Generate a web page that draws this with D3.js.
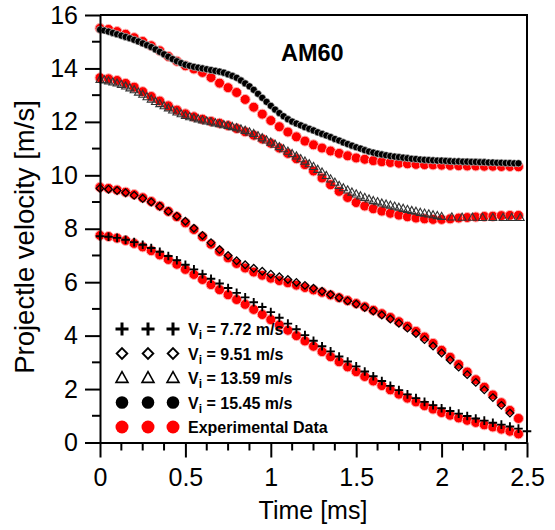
<!DOCTYPE html>
<html><head><meta charset="utf-8">
<script src="https://cdn.jsdelivr.net/npm/d3@7"></script>
<style>body{margin:0;background:#fff}svg{display:block}text{font-family:"Liberation Sans",Arial,sans-serif}</style>
</head><body><svg id="c" width="555" height="530"></svg>
<script>
// Time axis steps (ms)
const simStepFine = 0.025;   // black circles & triangles
const stepCoarse = 0.05;     // crosses, diamonds, experimental

// Vi = 15.45 m/s (filled black circles), t = 0 .. 2.45 step 0.025
const v1545 = [15.45,15.42,15.38,15.33,15.28,15.23,15.18,15.13,15.07,15.01,14.94,14.87,14.80,14.71,14.62,14.53,14.44,14.35,14.27,14.20,14.14,14.10,14.06,14.03,14.00,13.97,13.94,13.91,13.88,13.84,13.78,13.72,13.65,13.55,13.44,13.33,13.20,13.05,12.90,12.75,12.60,12.46,12.33,12.21,12.10,12.01,11.94,11.87,11.80,11.74,11.68,11.61,11.55,11.49,11.43,11.36,11.30,11.23,11.17,11.11,11.05,11.00,10.94,10.89,10.85,10.81,10.78,10.75,10.72,10.70,10.68,10.66,10.64,10.62,10.61,10.59,10.58,10.57,10.56,10.55,10.55,10.54,10.53,10.52,10.52,10.51,10.51,10.50,10.50,10.49,10.49,10.48,10.48,10.47,10.47,10.46,10.46,10.45,10.45];

// Vi = 13.59 m/s (open triangles), t = 0 .. 2.0 step 0.025, then sparse points
const v1359 = [13.59,13.57,13.53,13.49,13.45,13.40,13.34,13.27,13.20,13.11,13.03,12.94,12.85,12.76,12.68,12.60,12.52,12.44,12.37,12.30,12.24,12.19,12.15,12.11,12.07,12.03,12.00,11.96,11.93,11.89,11.86,11.82,11.78,11.73,11.68,11.62,11.56,11.48,11.40,11.32,11.24,11.16,11.07,10.99,10.90,10.81,10.72,10.62,10.53,10.43,10.33,10.22,10.12,9.99,9.86,9.74,9.62,9.53,9.45,9.37,9.30,9.23,9.17,9.11,9.05,9.01,8.96,8.92,8.88,8.84,8.80,8.76,8.72,8.68,8.65,8.61,8.58,8.55,8.52,8.49,8.46];
const t1359Tail = [2.06,2.12,2.18,2.24,2.30,2.36,2.41,2.46];
const v1359Tail = [8.44,8.43,8.43,8.42,8.42,8.42,8.42,8.42];

// Vi = 9.51 m/s (open diamonds), t = 0 .. 2.4 step 0.05
const v951 = [9.51,9.48,9.43,9.35,9.25,9.13,9.00,8.84,8.65,8.47,8.28,8.02,7.75,7.48,7.22,7.00,6.80,6.65,6.52,6.41,6.30,6.20,6.10,5.99,5.88,5.77,5.66,5.54,5.42,5.30,5.18,5.05,4.92,4.77,4.62,4.46,4.28,4.08,3.85,3.61,3.35,3.09,2.82,2.54,2.25,1.97,1.68,1.39,1.10];

// Vi = 7.72 m/s (crosses), t = 0 .. 2.5 step 0.05
const v772 = [7.72,7.70,7.66,7.59,7.50,7.40,7.28,7.14,6.98,6.82,6.65,6.48,6.30,6.13,5.95,5.78,5.60,5.43,5.25,5.07,4.88,4.67,4.45,4.24,4.02,3.81,3.60,3.41,3.22,3.03,2.85,2.66,2.48,2.30,2.12,1.96,1.80,1.66,1.52,1.40,1.28,1.18,1.08,0.99,0.90,0.82,0.74,0.67,0.60,0.52,0.42];

// Experimental data (red circles), t = 0 .. 2.45 step 0.05
const exp1545 = [15.50,15.46,15.38,15.28,15.15,15.01,14.85,14.66,14.45,14.27,14.10,13.98,13.85,13.66,13.45,13.28,13.10,12.84,12.55,12.29,12.05,11.82,11.62,11.44,11.28,11.14,11.02,10.91,10.82,10.73,10.65,10.60,10.55,10.51,10.48,10.45,10.43,10.41,10.40,10.39,10.38,10.37,10.36,10.35,10.35,10.34,10.34,10.33,10.33,10.32];
const exp1359 = [13.65,13.61,13.55,13.44,13.30,13.13,12.95,12.78,12.60,12.44,12.30,12.19,12.10,12.02,11.95,11.86,11.75,11.63,11.50,11.36,11.20,11.02,10.82,10.62,10.40,10.16,9.90,9.65,9.40,9.17,8.98,8.85,8.75,8.66,8.58,8.51,8.45,8.40,8.37,8.35,8.35,8.37,8.40,8.42,8.44,8.46,8.47,8.49,8.50,8.50];
const exp951 = [9.55,9.51,9.45,9.37,9.28,9.16,9.02,8.85,8.65,8.45,8.22,7.97,7.70,7.42,7.15,6.91,6.70,6.53,6.38,6.26,6.15,6.06,5.98,5.89,5.80,5.71,5.62,5.52,5.42,5.31,5.20,5.08,4.95,4.82,4.68,4.52,4.35,4.16,3.95,3.71,3.45,3.19,2.92,2.64,2.35,2.07,1.78,1.49,1.20,0.90];
const exp772 = [7.75,7.71,7.65,7.56,7.45,7.32,7.18,7.02,6.85,6.67,6.48,6.29,6.10,5.91,5.72,5.53,5.35,5.17,4.98,4.79,4.60,4.40,4.20,4.00,3.80,3.60,3.40,3.21,3.02,2.83,2.65,2.47,2.30,2.13,1.97,1.81,1.66,1.52,1.38,1.25,1.12,1.02,0.92,0.83,0.75,0.66,0.58,0.50,0.42,0.32];

const xMajor = [0,0.5,1,1.5,2,2.5];
const yMajor = [0,2,4,6,8,10,12,14,16];
const legendLabels = [["V","i"," = 7.72 m/s"],["V","i"," = 9.51 m/s"],["V","i"," = 13.59 m/s"],["V","i"," = 15.45 m/s"],["Experimental Data"]];

const svg = d3.select("#c");
const x = d3.scaleLinear().domain([0,2.5]).range([100,527]);
const y = d3.scaleLinear().domain([0,16]).range([442.5,15]);

const pts = (vals, step) => vals.map((v,i)=>({t:i*step, v}));

// marker paths
const plus = s => `M${-s},0H${s}M0,${-s}V${s}`;
const diamond = s => `M0,${-s}L${s},0L0,${s}L${-s},0Z`;
const tri = s => `M0,${-s}L${s*0.95},${s*0.7}L${-s*0.95},${s*0.7}Z`;

const gData = svg.append("g");
// experimental (underneath)
[exp1545, exp1359, exp951, exp772].forEach(arr=>{
  gData.append("g").selectAll("circle").data(pts(arr, stepCoarse)).join("circle")
    .attr("cx",d=>x(d.t)).attr("cy",d=>y(d.v)).attr("r",5)
    .attr("fill","#ff0000").attr("stroke","#ffb3b3").attr("stroke-width",1);
});
// black circles
gData.append("g").selectAll("circle").data(pts(v1545, simStepFine)).join("circle")
  .attr("cx",d=>x(d.t)).attr("cy",d=>y(d.v)).attr("r",3.6)
  .attr("fill","#000").attr("stroke","#e0e0e0").attr("stroke-width",0.6);
// triangles
const triData = pts(v1359, simStepFine).concat(t1359Tail.map((t,i)=>({t, v:v1359Tail[i]})));
gData.append("g").selectAll("path").data(triData).join("path")
  .attr("transform",d=>`translate(${x(d.t)},${y(d.v)})`).attr("d",tri(4.2))
  .attr("fill","none").attr("stroke","#333").attr("stroke-width",1.1);
// diamonds
gData.append("g").selectAll("path").data(pts(v951, stepCoarse)).join("path")
  .attr("transform",d=>`translate(${x(d.t)},${y(d.v)})`).attr("d",diamond(3.8))
  .attr("fill","none").attr("stroke","#000").attr("stroke-width",1.3);
// crosses
gData.append("g").selectAll("path").data(pts(v772, stepCoarse)).join("path")
  .attr("transform",d=>`translate(${x(d.t)},${y(d.v)})`).attr("d",plus(4.3))
  .attr("fill","none").attr("stroke","#000").attr("stroke-width",1.9);

// frame top & right
svg.append("path").attr("d",`M${x(0)},${y(16)}H${x(2.5)}V${y(0)}`)
  .attr("fill","none").attr("stroke","#000").attr("stroke-width",2);

// axes
const xMinor = d3.range(0,2.5001,0.125).filter(v=>Math.abs(v*2-Math.round(v*2))>1e-6);
const yMinor = d3.range(1,16,2);
const gx = svg.append("g").attr("transform",`translate(0,${y(0)})`)
  .call(d3.axisBottom(x).tickValues(xMajor).tickFormat(d3.format("")).tickSize(15).tickSizeOuter(0).tickPadding(11));
gx.append("g").selectAll("line").data(xMinor).join("line")
  .attr("x1",d=>x(d)).attr("x2",d=>x(d)).attr("y1",0).attr("y2",8).attr("stroke","#000").attr("stroke-width",2);
const gy = svg.append("g").attr("transform",`translate(${x(0)},0)`)
  .call(d3.axisLeft(y).tickValues(yMajor).tickSize(15).tickSizeOuter(0).tickPadding(7));
gy.append("g").selectAll("line").data(yMinor).join("line")
  .attr("y1",d=>y(d)).attr("y2",d=>y(d)).attr("x1",0).attr("x2",-8).attr("stroke","#000").attr("stroke-width",2);
[gx,gy].forEach(g=>{
  g.select(".domain").attr("stroke-width",2);
  g.selectAll(".tick line").attr("stroke-width",2);
  g.selectAll(".tick text").attr("font-size",25).attr("font-family","Liberation Sans, Arial, sans-serif").attr("fill","#000");
});

// titles
svg.append("text").attr("x",313).attr("y",519).attr("text-anchor","middle")
  .attr("font-size",25).text("Time [ms]");
svg.append("text").attr("transform","translate(34,237) rotate(-90)").attr("text-anchor","middle")
  .attr("font-size",27.5).text("Projectle velocity [m/s]");
svg.append("text").attr("x",281).attr("y",61).attr("font-size",23.5).attr("font-weight","bold").text("AM60");

// legend
const legRows = [329,353.5,378,402.5,427];
const legX = [122,148,173];
const legG = svg.append("g");
legRows.forEach((ry,i)=>{
  legX.forEach(lx=>{
    const g = legG.append("g").attr("transform",`translate(${lx},${ry})`);
    if(i===0) g.append("path").attr("d",plus(6.5)).attr("stroke","#000").attr("stroke-width",3).attr("fill","none");
    if(i===1) g.append("path").attr("d",diamond(5.3)).attr("stroke","#000").attr("stroke-width",1.9).attr("fill","none");
    if(i===2) g.append("path").attr("d",tri(6.3)).attr("stroke","#000").attr("stroke-width",1.6).attr("fill","none");
    if(i===3) g.append("circle").attr("r",6.3).attr("fill","#000");
    if(i===4) g.append("circle").attr("r",6.5).attr("fill","#ff0000");
  });
  const t = legG.append("text").attr("x",188).attr("y",ry+6).attr("font-size",16).attr("font-weight","bold");
  const lab = legendLabels[i];
  if(lab.length===3){
    t.append("tspan").text(lab[0]);
    t.append("tspan").attr("font-size",12).attr("dy",4).text(lab[1]);
    t.append("tspan").attr("dy",-4).text(lab[2]);
  } else t.text(lab[0]);
});
</script></body></html>
